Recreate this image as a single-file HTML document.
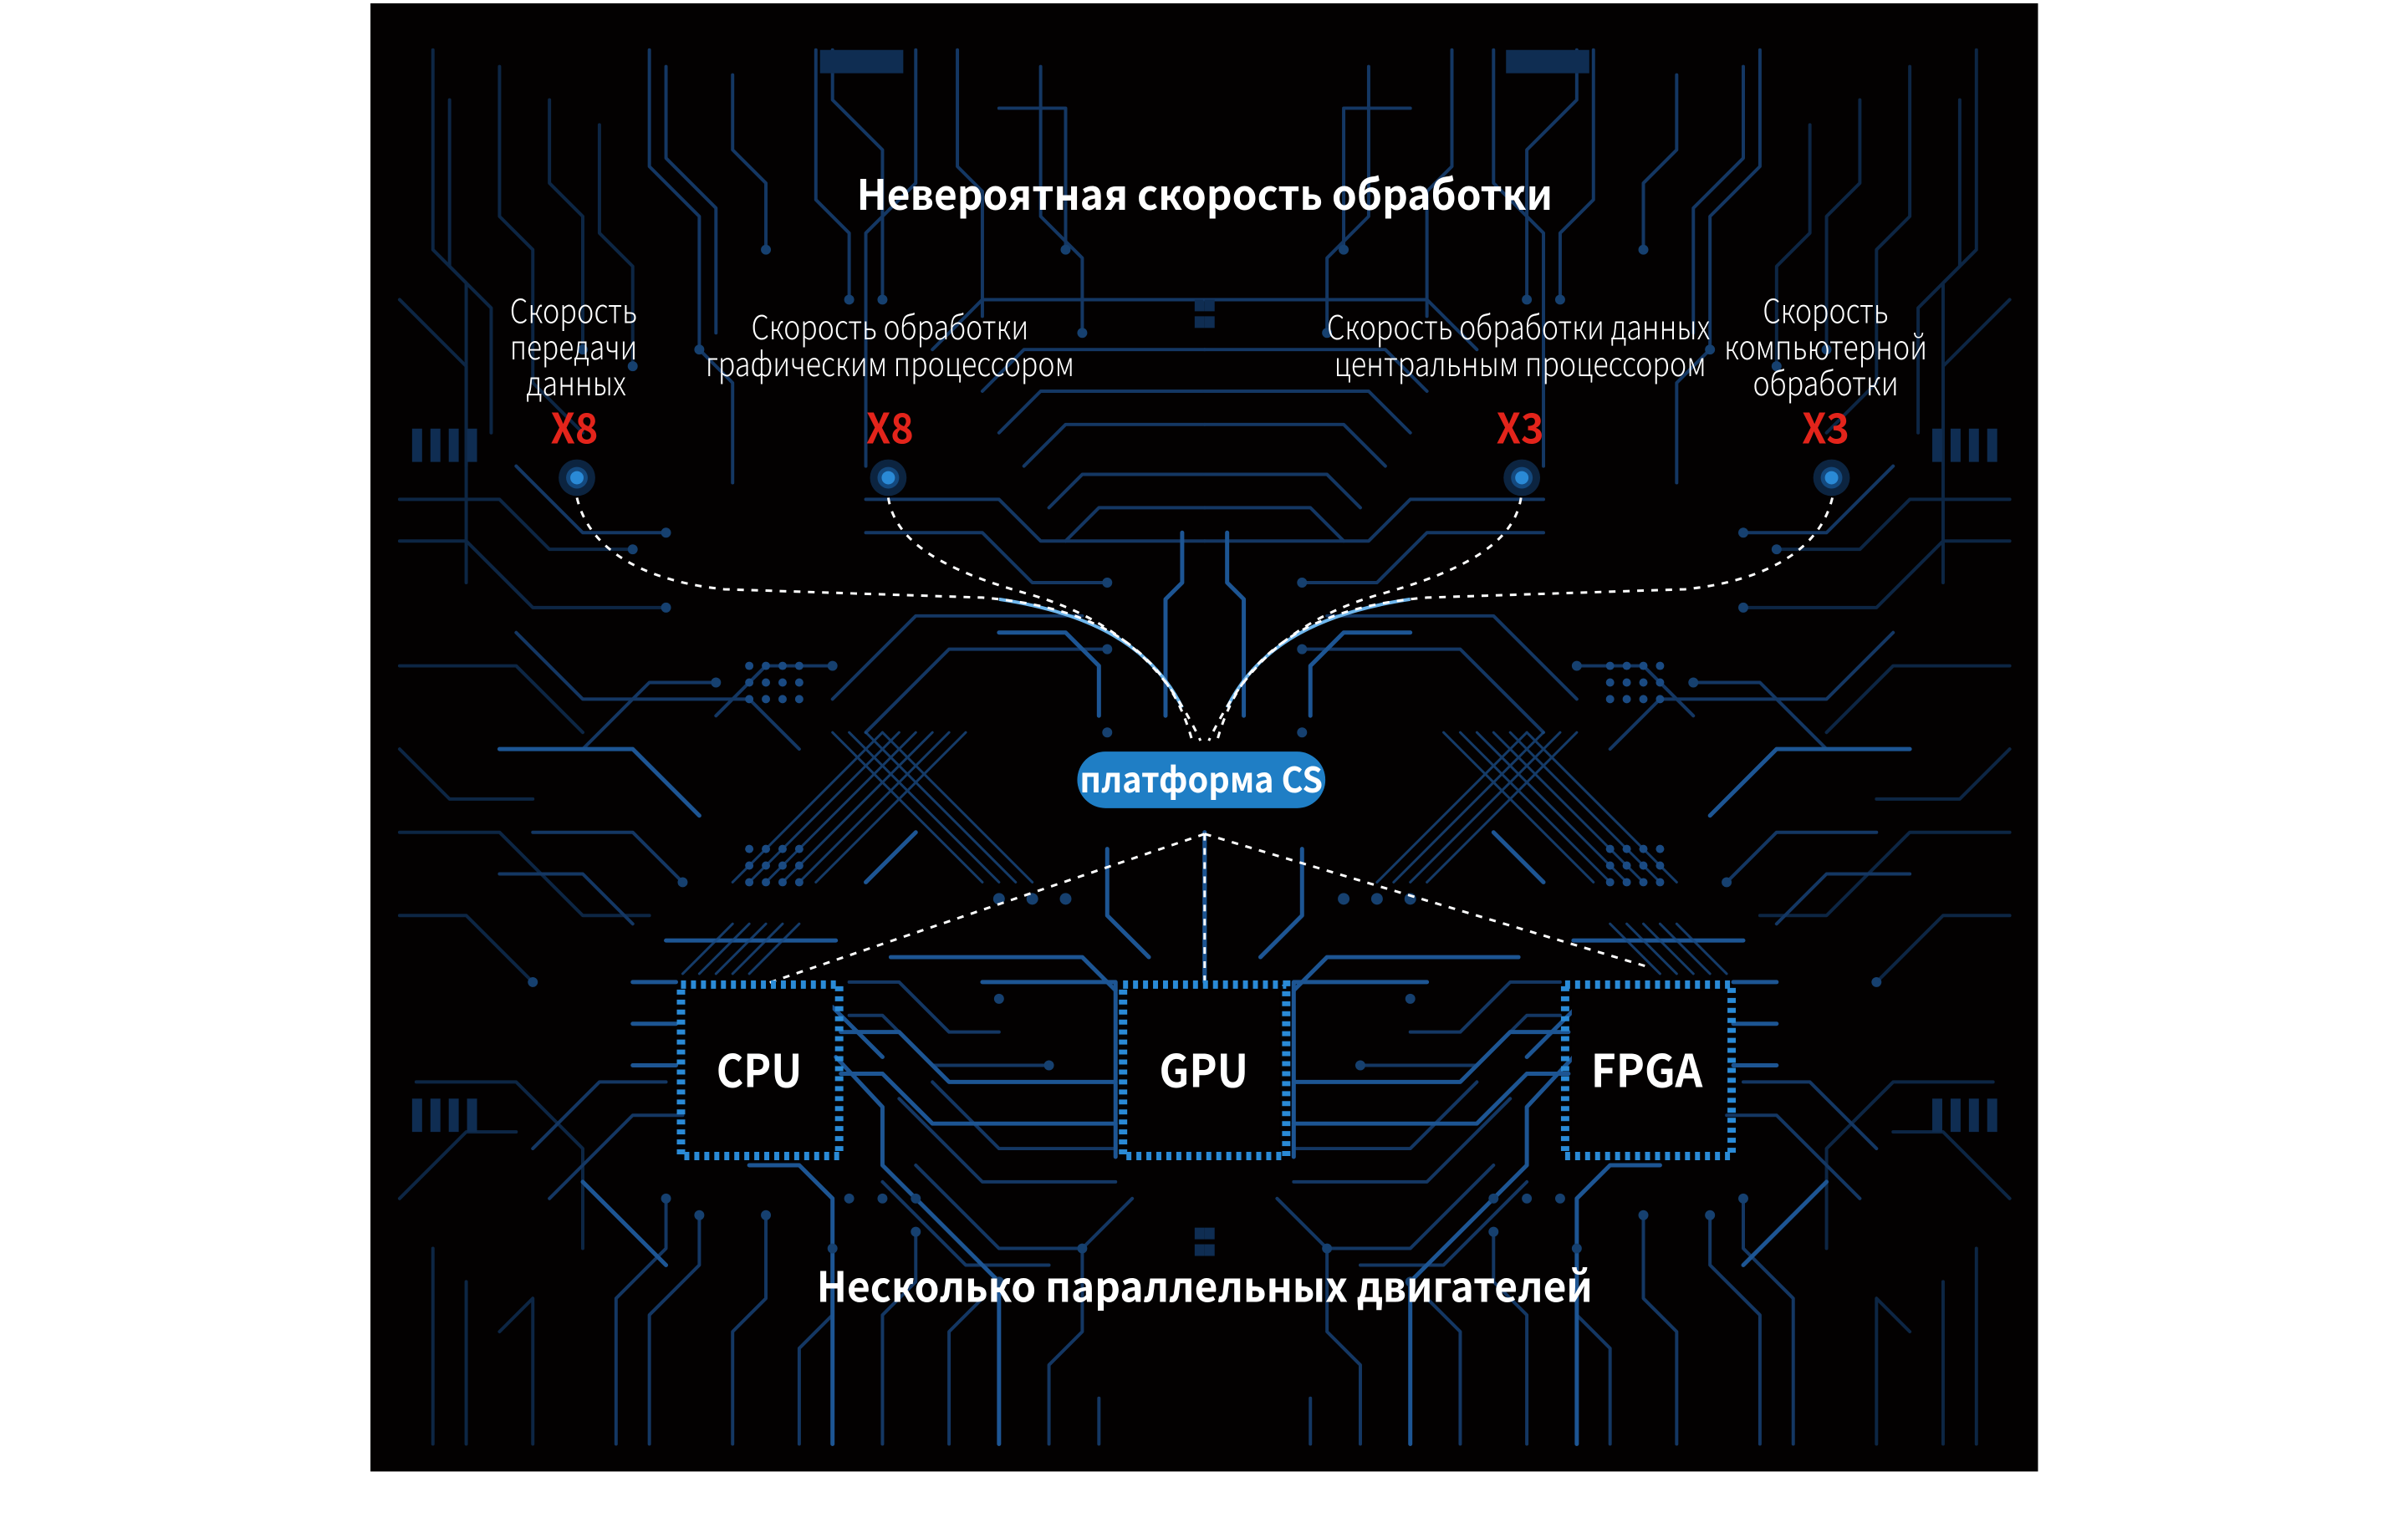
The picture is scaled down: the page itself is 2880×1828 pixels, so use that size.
<!DOCTYPE html>
<html><head><meta charset="utf-8"><style>
html,body{margin:0;padding:0;background:#fff;}
svg{display:block}
.t{font-family:"Noto Sans CJK SC","Liberation Sans",sans-serif;}
</style></head><body>
<svg width="2880" height="1828" viewBox="0 0 2880 1828" xmlns="http://www.w3.org/2000/svg">
<defs>
<g id="half" fill="none" stroke-linejoin="round" stroke-linecap="round">
 <g stroke="#0d2644" stroke-width="4">
  <path d="M520 60 V300 L560 340 V700"/><path d="M540 120 V320 L590 370 V520"/>
  <path d="M600 80 V260 L640 300 V460 L700 520"/><path d="M480 600 H600 L660 660 H760"/>
  <path d="M480 650 H560 L640 730 H800"/><path d="M480 800 H620 L700 880"/>
  <path d="M480 1000 H600 L700 1100 H780"/><path d="M480 1100 H560 L640 1180"/>
  <path d="M500 1300 H620 L700 1380 V1500"/><path d="M480 1440 L560 1360 H620"/>
  <path d="M520 1500 V1735"/><path d="M560 1540 V1735"/><path d="M600 1600 L640 1560 V1735"/>
  <path d="M480 360 L560 440 V560"/><path d="M480 900 L540 960 H640"/>
  <path d="M660 120 V220 L700 260 V420"/><path d="M720 150 V280 L760 320 V440"/>
 </g>
 <g stroke="#143763" stroke-width="4">
  <path d="M780 60 V200 L840 260 V420 L880 460 V580"/><path d="M800 80 V190 L860 250 V400"/>
  <path d="M880 90 V180 L920 220 V300"/><path d="M1000 60 V120 L1060 180 V360"/>
  <path d="M1100 60 V220 L1040 280 V560"/><path d="M1150 60 V200 L1180 230 V380"/>
  <path d="M1200 130 H1280 V300"/><path d="M1250 80 V260 L1300 310 V400"/>
  <path d="M980 60 V240 L1020 280 V360"/>
  <path d="M1120 420 L1180 360 H1447"/><path d="M1180 470 L1230 420 H1447"/>
  <path d="M1200 520 L1250 470 H1447"/><path d="M1230 560 L1280 510 H1447"/>
  <path d="M1260 610 L1300 570 H1447"/><path d="M1280 650 L1320 610 H1447"/>
  <path d="M1040 600 H1200 L1250 650 H1447"/><path d="M1040 640 H1180 L1240 700 H1330"/>
  <path d="M620 560 L700 640 H800"/><path d="M620 760 L700 840 H900 L960 900"/>
  <path d="M640 1000 L760 1000 L820 1060"/><path d="M600 1050 H700 L760 1110"/>
  <path d="M700 900 L780 820 H860"/><path d="M860 860 L920 800 H1000"/>
  <path d="M1000 840 L1100 740 H1300"/><path d="M1040 880 L1140 780 H1330"/>
  <path d="M640 1380 L720 1300 H800"/><path d="M660 1440 L760 1340 H820"/>
  <path d="M740 1735 V1560 L800 1500 V1440"/><path d="M780 1735 V1580 L840 1520 V1460"/>
  <path d="M880 1735 V1600 L920 1560 V1460"/><path d="M960 1735 V1620 L1000 1580 V1500"/>
  <path d="M1060 1735 V1580 L1100 1540 V1480"/><path d="M1140 1735 V1600 L1180 1560"/>
  <path d="M1260 1735 V1640 L1300 1600 V1500"/><path d="M1320 1735 V1680"/>
  <path d="M1060 1420 L1160 1520 H1260"/><path d="M1100 1400 L1200 1500 H1300 L1360 1440"/>
  <path d="M1020 1180 H1080 L1140 1240 H1200"/><path d="M1020 1220 H1060 L1120 1280 H1260"/>
  <path d="M1080 1320 L1180 1420 H1340"/><path d="M1120 1300 L1200 1380 H1340"/>
 </g>
 <g stroke="#1d5593" stroke-width="5">
  <path d="M800 1130 H1004"/><path d="M600 900 H760 L840 980"/>
  <path d="M1070 1150 H1300 L1340 1190"/><path d="M1004 1270 L1060 1330 V1400 L1200 1540 V1735"/>
  <path d="M900 1400 H960 L1000 1440 V1735"/><path d="M700 1420 L800 1520"/>
  <path d="M1000 1210 L1060 1270"/><path d="M1040 1060 L1100 1000"/>
  <path d="M1447 1000 V1180"/><path d="M1380 1150 L1330 1100 V1020"/>
  <path d="M1420 640 V700 L1400 720 V860"/><path d="M1200 760 H1280 L1320 800 V860"/>
  <path d="M1180 1180 H1340 V1390"/><path d="M760 1180 H812"/><path d="M760 1230 H812"/><path d="M760 1280 H812"/>
  <path d="M1010 1240 H1080 L1140 1300 H1340"/><path d="M1010 1290 H1060 L1120 1350 H1340"/>
 </g>
 <g stroke="#1a4a82" stroke-width="3" opacity="0.8">
  <path d="M880 1060 L1060 880"/><path d="M900 1060 L1080 880"/><path d="M920 1060 L1100 880"/>
  <path d="M940 1060 L1120 880"/><path d="M960 1060 L1140 880"/><path d="M980 1060 L1160 880"/>
  <path d="M1000 880 L1180 1060"/><path d="M1020 880 L1200 1060"/><path d="M1040 880 L1220 1060"/>
  <path d="M1060 880 L1240 1060"/>
  <path d="M820 1170 L880 1110"/><path d="M840 1170 L900 1110"/><path d="M860 1170 L920 1110"/>
  <path d="M880 1170 L940 1110"/><path d="M900 1170 L960 1110"/>
 </g>
 <g fill="#16406f" stroke="none">
  <circle cx="840" cy="420" r="6"/><circle cx="920" cy="300" r="6"/><circle cx="1060" cy="360" r="6"/>
  <circle cx="1280" cy="300" r="6"/><circle cx="1300" cy="400" r="6"/><circle cx="1020" cy="360" r="6"/>
  <circle cx="760" cy="440" r="6"/><circle cx="700" cy="420" r="6"/><circle cx="800" cy="640" r="6"/>
  <circle cx="760" cy="660" r="6"/><circle cx="800" cy="730" r="6"/><circle cx="640" cy="1180" r="6"/>
  <circle cx="1330" cy="700" r="6"/><circle cx="1330" cy="780" r="6"/><circle cx="1330" cy="880" r="6"/>
  <circle cx="860" cy="820" r="6"/><circle cx="1000" cy="800" r="6"/><circle cx="1200" cy="1540" r="6"/>
  <circle cx="800" cy="1440" r="6"/><circle cx="840" cy="1460" r="6"/><circle cx="920" cy="1460" r="6"/>
  <circle cx="1000" cy="1500" r="6"/><circle cx="1100" cy="1480" r="6"/><circle cx="1300" cy="1500" r="6"/>
  <circle cx="1200" cy="1200" r="6"/><circle cx="1260" cy="1280" r="6"/><circle cx="820" cy="1060" r="6"/>
  <circle cx="1020" cy="1440" r="6"/><circle cx="1060" cy="1440" r="6"/><circle cx="1100" cy="1440" r="6"/>
  <circle cx="1280" cy="1080" r="7"/><circle cx="1240" cy="1080" r="7"/><circle cx="1200" cy="1080" r="7"/>
 </g>
 <g fill="#1a4a82">
  <circle cx="900" cy="800" r="5"/><circle cx="920" cy="800" r="5"/><circle cx="940" cy="800" r="5"/><circle cx="960" cy="800" r="5"/>
  <circle cx="900" cy="820" r="5"/><circle cx="920" cy="820" r="5"/><circle cx="940" cy="820" r="5"/><circle cx="960" cy="820" r="5"/>
  <circle cx="900" cy="840" r="5"/><circle cx="920" cy="840" r="5"/><circle cx="940" cy="840" r="5"/><circle cx="960" cy="840" r="5"/>
  <circle cx="900" cy="1020" r="5"/><circle cx="920" cy="1020" r="5"/><circle cx="940" cy="1020" r="5"/><circle cx="960" cy="1020" r="5"/>
  <circle cx="900" cy="1040" r="5"/><circle cx="920" cy="1040" r="5"/><circle cx="940" cy="1040" r="5"/><circle cx="960" cy="1040" r="5"/>
  <circle cx="900" cy="1060" r="5"/><circle cx="920" cy="1060" r="5"/><circle cx="940" cy="1060" r="5"/><circle cx="960" cy="1060" r="5"/>
 </g>
 <g fill="#0f2d52">
  <rect x="495" y="515" width="12" height="40"/><rect x="517" y="515" width="12" height="40"/><rect x="539" y="515" width="12" height="40"/><rect x="561" y="515" width="12" height="40"/>
  <rect x="495" y="1320" width="12" height="40"/><rect x="517" y="1320" width="12" height="40"/><rect x="539" y="1320" width="12" height="40"/><rect x="561" y="1320" width="12" height="40"/>
  <rect x="985" y="60" width="100" height="28"/>
  <rect x="1435" y="360" width="12" height="14"/><rect x="1435" y="380" width="12" height="14"/>
  <rect x="1435" y="1475" width="12" height="14"/><rect x="1435" y="1495" width="12" height="14"/>
 </g>
</g>
</defs>
<g transform="scale(0.9957)">
<rect x="445" y="4" width="2003" height="1764" fill="#030101"/>
<use href="#half"/>
<use href="#half" transform="translate(2894,0) scale(-1,1)"/>

<text class="t" x="1447" y="252" font-size="50" font-weight="700" fill="#fff" text-anchor="middle" textLength="836" lengthAdjust="spacingAndGlyphs">Невероятная скорость обработки</text>

<g class="t" font-size="40" fill="#fff" text-anchor="middle" font-weight="300">
 <text x="689" y="388" textLength="153" lengthAdjust="spacingAndGlyphs">Скорость</text>
 <text x="689" y="432" textLength="153" lengthAdjust="spacingAndGlyphs">передачи</text>
 <text x="692" y="475" textLength="120" lengthAdjust="spacingAndGlyphs">данных</text>
 <text x="1069" y="408" textLength="333" lengthAdjust="spacingAndGlyphs">Скорость обработки</text>
 <text x="1069" y="452" textLength="443" lengthAdjust="spacingAndGlyphs">графическим процессором</text>
 <text x="1824" y="408" textLength="460" lengthAdjust="spacingAndGlyphs">Скорость обработки данных</text>
 <text x="1826" y="452" textLength="447" lengthAdjust="spacingAndGlyphs">центральным процессором</text>
 <text x="2193" y="388" textLength="151" lengthAdjust="spacingAndGlyphs">Скорость</text>
 <text x="2193" y="432" textLength="244" lengthAdjust="spacingAndGlyphs">компьютерной</text>
 <text x="2193" y="475" textLength="175" lengthAdjust="spacingAndGlyphs">обработки</text>
</g>
<g class="t" font-size="50" font-weight="700" fill="#e3241b" text-anchor="middle">
 <text x="690" y="533" textLength="57" lengthAdjust="spacingAndGlyphs">X8</text>
 <text x="1069" y="533" textLength="57" lengthAdjust="spacingAndGlyphs">X8</text>
 <text x="1826" y="533" textLength="57" lengthAdjust="spacingAndGlyphs">X3</text>
 <text x="2193" y="533" textLength="57" lengthAdjust="spacingAndGlyphs">X3</text>
</g>

<g>
 <g transform="translate(693,574)"><circle r="22" fill="#0c2440"/><circle r="13" fill="#14497e"/><circle r="8" fill="#2a8ad6"/></g>
 <g transform="translate(1067,574)"><circle r="22" fill="#0c2440"/><circle r="13" fill="#14497e"/><circle r="8" fill="#2a8ad6"/></g>
 <g transform="translate(1828,574)"><circle r="22" fill="#0c2440"/><circle r="13" fill="#14497e"/><circle r="8" fill="#2a8ad6"/></g>
 <g transform="translate(2200,574)"><circle r="22" fill="#0c2440"/><circle r="13" fill="#14497e"/><circle r="8" fill="#2a8ad6"/></g>
</g>

<g fill="none" stroke="#6eb6ec" stroke-width="4">
 <path d="M1200 720 C1300 735 1380 770 1420 850"/>
 <path d="M1694 720 C1594 735 1514 770 1474 850"/>
</g>
<g fill="none" stroke="#fff" stroke-width="3" stroke-dasharray="8 9">
 <path d="M693 598 C710 670 790 700 870 708 L1180 718 C1330 730 1405 790 1432 890"/>
 <path d="M1067 598 C1075 650 1130 685 1240 715 C1340 745 1400 800 1442 890"/>
 <path d="M2201 598 C2184 670 2104 700 2024 708 L1714 718 C1564 730 1489 790 1462 890"/>
 <path d="M1827 598 C1819 650 1764 685 1654 715 C1554 745 1494 800 1452 890"/>
 <path d="M1447 1002 L923 1181"/><path d="M1447 1002 V1180"/><path d="M1447 1002 L1984 1163"/>
</g>

<rect x="1294" y="903" width="298" height="68" rx="34" fill="#1f7ec5"/>
<text class="t" x="1443" y="952" font-size="42" font-weight="700" fill="#fff" text-anchor="middle" textLength="292" lengthAdjust="spacingAndGlyphs">платформа CS</text>

<g>
 <g fill="none" stroke="#2a8ad6" stroke-width="10" stroke-dasharray="6 6">
  <rect x="818" y="1183" width="190" height="206"/>
  <rect x="1349" y="1183" width="196" height="206"/>
  <rect x="1880" y="1183" width="200" height="206"/>
 </g>
 <rect x="826" y="1190" width="174" height="192" fill="#030101"/>
 <rect x="1357" y="1190" width="180" height="192" fill="#030101"/>
 <rect x="1888" y="1190" width="184" height="192" fill="#030101"/>
 <g class="t" font-size="54" font-weight="700" fill="#fff" text-anchor="middle">
  <text x="912" y="1306" textLength="103" lengthAdjust="spacingAndGlyphs">CPU</text>
  <text x="1446" y="1306" textLength="107" lengthAdjust="spacingAndGlyphs">GPU</text>
  <text x="1978" y="1306" textLength="134" lengthAdjust="spacingAndGlyphs">FPGA</text>
 </g>
</g>

<text class="t" x="1447" y="1564" font-size="50" font-weight="700" fill="#fff" text-anchor="middle" textLength="932" lengthAdjust="spacingAndGlyphs">Несколько параллельных двигателей</text>
</g>
</svg>
</body></html>
